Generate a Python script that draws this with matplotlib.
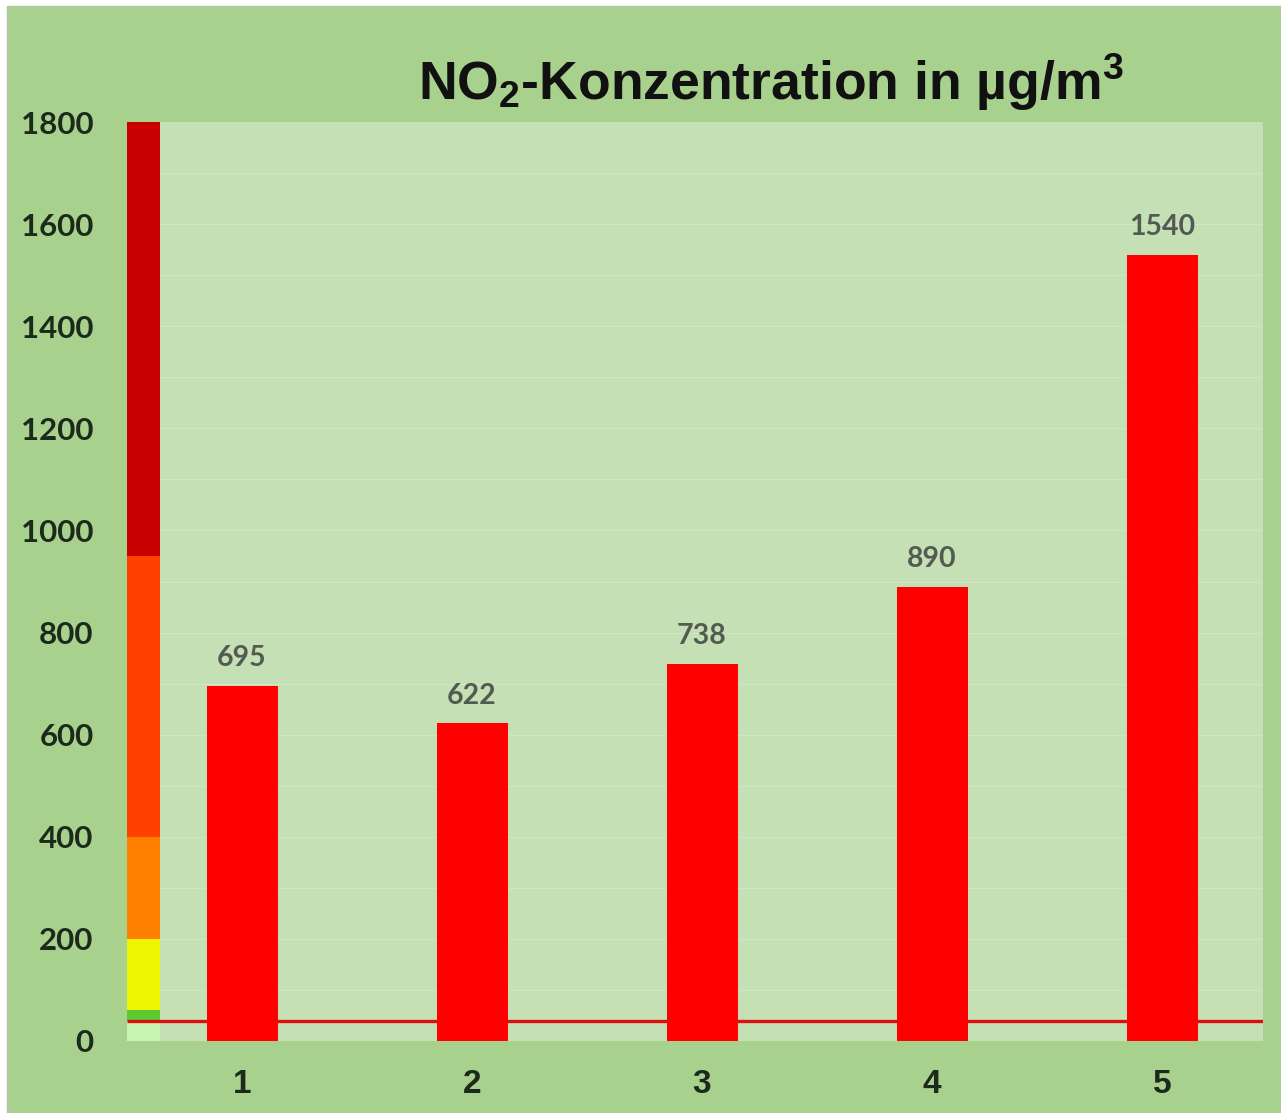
import matplotlib
matplotlib.use("Agg")
import matplotlib.pyplot as plt
from matplotlib.patches import Rectangle

categories = ["1", "2", "3", "4", "5"]
values = [695, 622, 738, 890, 1540]
yticks = [0, 200, 400, 600, 800, 1000, 1200, 1400, 1600, 1800]
limit_value = 40
scale_bounds = [0, 40, 60, 200, 400, 950, 1800]
scale_colors = ["#c8f5b0", "#5cc832", "#eef500", "#ff8000", "#ff4000", "#c80000"]

plt.rcParams['mathtext.fontset'] = 'custom'
plt.rcParams['mathtext.rm'] = 'Liberation Sans:bold'
plt.rcParams['mathtext.it'] = 'Liberation Sans:bold'
plt.rcParams['mathtext.bf'] = 'Liberation Sans:bold'

W, H = 1281, 1113
fig = plt.figure(figsize=(W/100, H/100), dpi=100, facecolor='white')
bg = Rectangle((7/W, 0), 1 - 7/W, 1 - 6/H, transform=fig.transFigure,
               facecolor='#a9d18e', edgecolor='#b4c4a8', lw=1.0, zorder=-10)
fig.patches.append(bg)

left, right, top, bottom = 127, 1263, 122, 1041
ax = fig.add_axes([left/W, 1 - bottom/H, (right-left)/W, (bottom-top)/H])
ax.set_zorder(1)
ax.set_facecolor('#c5e0b4')
for s in ax.spines.values():
    s.set_visible(False)

xpos = list(range(1, len(categories) + 1))
xmin = 0.5
xmax = 1 + (right - 242) / 230
ax.set_xlim(xmin, xmax)
ax.set_ylim(0, 1800)

# faint gridlines
for g in range(100, 1800, 100):
    ax.axhline(g, color='#d0e6c2', lw=0.8, zorder=0.5)

# colour scale strip
strip_w = 33 / 230
for lo, hi, c in zip(scale_bounds[:-1], scale_bounds[1:], scale_colors):
    ax.bar(xmin, hi - lo, bottom=lo, width=strip_w, align='edge', color=c, zorder=1, linewidth=0)

# limit line
ax.plot([xmin, xmax], [limit_value, limit_value], color='#dd1010', lw=2.4, zorder=2,
        solid_capstyle='butt')

bars = ax.bar(xpos, values, width=71/230, color='#ff0000', zorder=3, linewidth=0)
for x, v in zip(xpos, values):
    ax.annotate(str(v), (x, v), xytext=(0, 20), textcoords='offset points',
                ha='center', va='center', fontsize=20.5, fontweight='bold',
                family='Lato', color='#525a52')

ax.set_yticks(yticks)
ax.set_yticklabels([str(t) for t in yticks], family='Lato', fontweight='bold',
                   fontsize=22.5, color='#1c2a1c')
ax.set_xticks(xpos)
ax.set_xticklabels(categories, family='Liberation Sans', fontweight='bold',
                   fontsize=24, color='#1c2a1c')
ax.tick_params(axis='y', length=0, pad=24)
ax.tick_params(axis='x', length=0, pad=20)

fig.text(771/W, 1 - 82/H, r"NO$_2$-Konzentration in µg/m$^3$", ha='center', va='center',
         family='Liberation Sans', fontweight='bold', fontsize=38.5, color='#111111')

fig.savefig("out.png", dpi=100, facecolor=fig.get_facecolor())
